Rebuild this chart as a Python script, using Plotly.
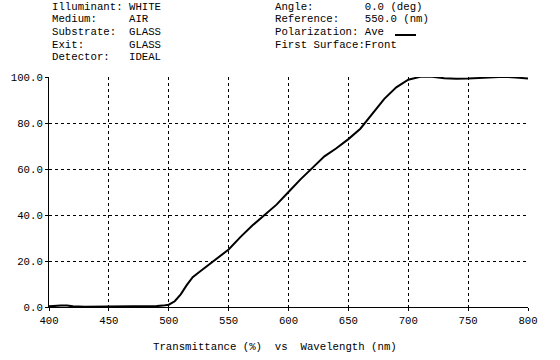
import plotly.graph_objects as go

wavelength = [400, 405, 410, 415, 420, 430, 440, 450, 460, 470, 480, 490, 495, 500, 505, 510, 515, 520, 525, 530,
              540, 550, 560, 570, 580, 590, 600, 610, 620, 630, 640, 650, 660, 670, 680, 690, 700, 710, 720,
              730, 740, 750, 760, 770, 780, 790, 800]
transmittance = [0.3, 0.6, 0.6, 0.6, 0.3, 0.1, 0.1, 0.1, 0.1, 0.1, 0.2, 0.4, 0.6, 1.0, 2.5, 5.5, 9.5, 13.0, 15.0, 17.0,
                 20.7, 25.0, 30.5, 35.5, 40.0, 44.5, 50.0, 55.5, 60.5, 65.5, 69.0, 73.0, 77.5, 84.0, 90.5, 95.5, 98.8,
                 100.1, 100.1, 99.5, 99.2, 99.3, 99.5, 100.0, 100.1, 99.8, 99.3]

x_ticks = [400, 450, 500, 550, 600, 650, 700, 750, 800]
y_ticks = [0, 20, 40, 60, 80, 100]
y_tick_labels = ["0.0", "20.0", "40.0", "60.0", "80.0", "100.0"]

header_left = ["Illuminant: WHITE", "Medium:     AIR", "Substrate:  GLASS", "Exit:       GLASS", "Detector:   IDEAL"]
header_right = ["Angle:        0.0 (deg)", "Reference:    550.0 (nm)", "Polarization: Ave", "First Surface:Front"]
x_title = "Transmittance (%)  vs  Wavelength (nm)"

FONT = "Courier New, Liberation Mono, monospace"
W, H = 560, 360
L, R, T, B = 49, 32, 77, 53
PW, PH = W - L - R, H - T - B

def px(x):
    return (x - L) / PW

def py(y):
    return (H - B - y) / PH

fig = go.Figure()
fig.add_trace(go.Scatter(x=wavelength, y=transmittance, mode="lines",
                         line=dict(color="black", width=2), showlegend=False))

annotations = []
for i, t in enumerate(header_left):
    annotations.append(dict(x=px(50), y=py(6.7 + i * 12.67), xref="paper", yref="paper",
                            text=t.replace(" ", "\u00a0"), showarrow=False, xanchor="left", yanchor="middle",
                            font=dict(family=FONT, size=10.7, color="black")))
for i, t in enumerate(header_right):
    annotations.append(dict(x=px(273), y=py(6.7 + i * 12.67), xref="paper", yref="paper",
                            text=t.replace(" ", "\u00a0"), showarrow=False, xanchor="left", yanchor="middle",
                            font=dict(family=FONT, size=10.7, color="black")))
annotations.append(dict(x=px(275), y=py(347), xref="paper", yref="paper",
                        text=x_title.replace(" ", "\u00a0"), showarrow=False, xanchor="center", yanchor="middle",
                        font=dict(family=FONT, size=10.7, color="black")))

shapes = [dict(type="line", xref="paper", yref="paper", x0=px(395), x1=px(416), y0=py(35), y1=py(35),
               line=dict(color="black", width=2))]

fig.update_layout(
    width=W, height=H, margin=dict(l=L, r=R, t=T, b=B),
    paper_bgcolor="white", plot_bgcolor="white",
    annotations=annotations, shapes=shapes,
    font=dict(family=FONT, size=10.7, color="black"),
    xaxis=dict(range=[400, 800], tickvals=x_ticks, ticktext=[str(v) for v in x_ticks],
               showgrid=True, gridcolor="black", gridwidth=1, griddash="3px,3px",
               showline=True, linecolor="black", linewidth=1, zeroline=False,
               ticks="outside", ticklen=3, tickcolor="black",
               tickfont=dict(family=FONT, size=10.7, color="black")),
    yaxis=dict(range=[0, 100], tickvals=y_ticks, ticktext=y_tick_labels,
               showgrid=True, gridcolor="black", gridwidth=1, griddash="3px,3px",
               showline=True, linecolor="black", linewidth=1, zeroline=False,
               ticks="outside", ticklen=3, tickcolor="black",
               tickfont=dict(family=FONT, size=10.7, color="black")),
)

fig.write_html("out.html", config={"displayModeBar": False},
               post_script="document.body.style.margin='0';")
